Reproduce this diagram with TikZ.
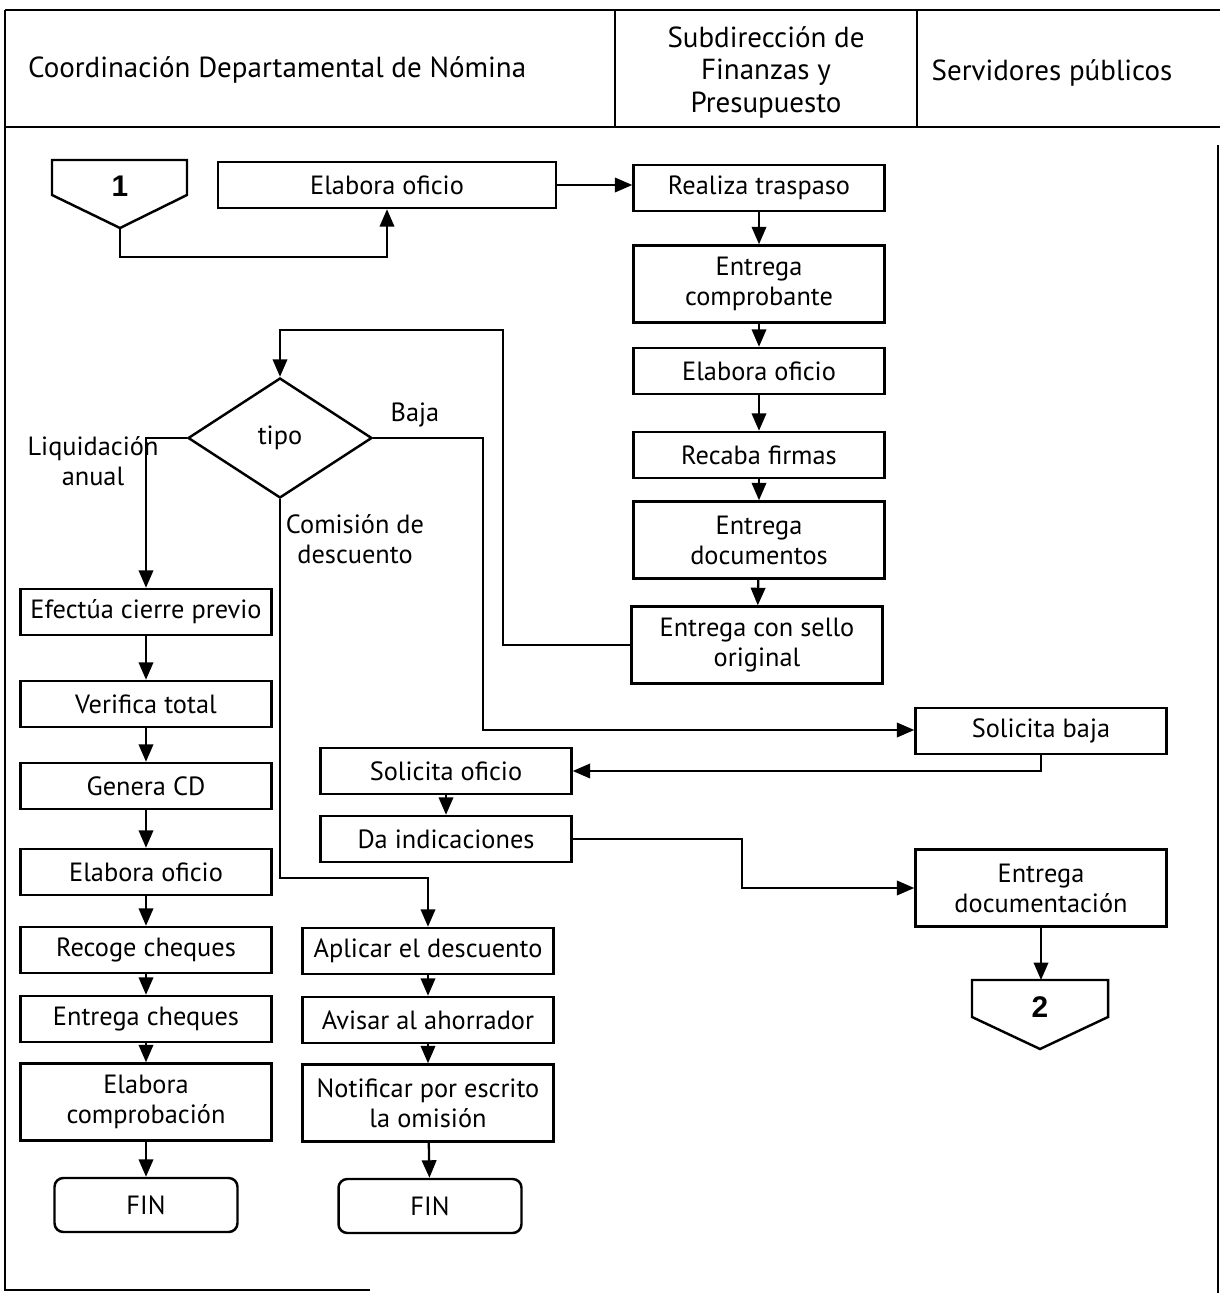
\documentclass[tikz,border=0pt]{standalone}
\usepackage{fontspec}
\setmainfont{PT Sans}
\newfontfamily\numfont{Liberation Sans}
\usetikzlibrary{arrows.meta,shapes.geometric}
\tikzset{
  paso/.style ={draw,line width=1.4pt,align=center,inner sep=2pt,
                minimum width=5.02cm,minimum height=0.92cm},
  pasob/.style={paso,minimum height=1.54cm},
  fin/.style  ={paso,rounded corners=5pt,minimum width=3.66cm,minimum height=1.08cm},
  decis/.style={draw,diamond,line width=1.4pt,aspect=1.53,inner sep=0pt,
                minimum width=3.68cm,minimum height=2.4cm},
  conec/.style={draw,line width=1.4pt,line join=miter},
  numc/.style ={font=\numfont\bfseries\fontsize{17}{20}\selectfont},
  marco/.style={line width=1.4pt},
  head/.style ={font=\fontsize{16.5}{18.5}\selectfont,align=center},
  etiq/.style ={align=center,inner sep=0pt},
  flow/.style ={-{Triangle[length=3.5mm,width=2.9mm]},line width=1.3pt},
}

\begin{document}
\begin{tikzpicture}[x=0.02cm,y=-0.02cm,font=\fontsize{15}{17}\selectfont]
  \useasboundingbox (0,0) rectangle (1220,1293);
  % frame and lanes
  \draw[marco] (5,10) -- (1220,10);
  \draw[marco] (5,10) -- (5,1290) -- (370,1290);
  \draw[marco] (1218,145) -- (1218,1293);
  \draw[marco] (5,127) -- (1220,127);
  \draw[marco] (615,10) -- (615,127);
  \draw[marco] (917,10) -- (917,127);
  \node[head,anchor=west] (hcoord) at (22,70) {Coordinación Departamental de Nómina};
  \node[head] (hsub) at (766,72) {Subdirección de\\Finanzas y\\Presupuesto};
  \node[head] (hserv) at (1052,73) {Servidores públicos};

  % connector 1 and first steps
  \draw[conec] (52,160) -- (187,160) -- (187,195) -- (120,228) -- (52,195) -- cycle;
  \node[numc] (n1) at (120,186) {1};
  \coordinate (c1) at (120,228);
  \node[paso,minimum width=6.76cm] (eo1) at (387,185) {Elabora oficio};

  % Subdireccion column
  \node[paso]  (rt)  at (759,188) {Realiza traspaso};
  \node[pasob] (ec)  at (759,284) {Entrega\\comprobante};
  \node[paso]  (eo2) at (759,371) {Elabora oficio};
  \node[paso]  (rf)  at (759,455) {Recaba firmas};
  \node[pasob] (ed)  at (759,540) {Entrega\\documentos};
  \node[pasob] (es)  at (757,645) {Entrega con sello\\original};

  % decision
  \node[decis] (tipo) at (280,438) {tipo};
  \node[etiq] (lliq) at (93,461) {Liquidación\\anual};
  \node[etiq] (lbaja) at (415,415) {Baja};
  \node[etiq] (lcom) at (355,539) {Comisión de\\descuento};

  % liquidacion anual
  \node[paso]  (ecp)   at (146,612)  {Efectúa cierre previo};
  \node[paso]  (vt)    at (146,704)  {Verifica total};
  \node[paso]  (gcd)   at (146,786)  {Genera CD};
  \node[paso]  (eo3)   at (146,872)  {Elabora oficio};
  \node[paso]  (rc)    at (146,950)  {Recoge cheques};
  \node[paso]  (ech)   at (146,1019) {Entrega cheques};
  \node[pasob] (ecomp) at (146,1102) {Elabora\\comprobación};
  \node[fin]   (fin1)  at (146,1205) {FIN};

  % comision de descuento
  \node[paso]  (ad)   at (428,951)  {Aplicar el descuento};
  \node[paso]  (aa)   at (428,1020) {Avisar al ahorrador};
  \node[pasob] (nesc) at (428,1103) {Notificar por escrito\\la omisión};
  \node[fin]   (fin2) at (430,1206) {FIN};

  % baja
  \node[paso]  (sb)   at (1041,731) {Solicita baja};
  \node[paso]  (so)   at (446,771)  {Solicita oficio};
  \node[paso]  (di)   at (446,839)  {Da indicaciones};
  \node[pasob] (edoc) at (1041,888) {Entrega\\documentación};

  % connector 2
  \draw[conec] (972,980) -- (1108,980) -- (1108,1017) -- (1040,1049) -- (972,1017) -- cycle;
  \node[numc] (n2) at (1040,1007) {2};
  \coordinate (c2) at (1041,980);

  % bend points
  \coordinate (lp) at (503,330);
  \coordinate (cb) at (280,878);
  \coordinate (bj) at (483,730);
  \coordinate (dq) at (742,860);

  % arrows
  \draw[flow] (c1) -- ++(0,29) -| (eo1.south);
  \draw[flow] (eo1.east) -- (rt.west |- eo1.east);
  \foreach \a/\b in {rt/ec,ec/eo2,eo2/rf,rf/ed,ed/es,
                     ecp/vt,vt/gcd,gcd/eo3,eo3/rc,rc/ech,ech/ecomp,ecomp/fin1,
                     ad/aa,aa/nesc,nesc/fin2,so/di,edoc/c2}
    \draw[flow] (\a) -- (\b);
  \draw[flow] (es.west) -| (lp) -| (tipo.north);
  \draw[flow] (tipo.west) -| (ecp.north);
  \draw[flow] (tipo.south) -- (cb) -| (ad.north);
  \draw[flow] (tipo.east) -| (bj) -- (sb.west |- bj);
  \draw[flow] (sb.south) |- (so.east);
  \draw[flow] (di.east) -| (dq) |- (edoc.west);
\end{tikzpicture}
\end{document}
